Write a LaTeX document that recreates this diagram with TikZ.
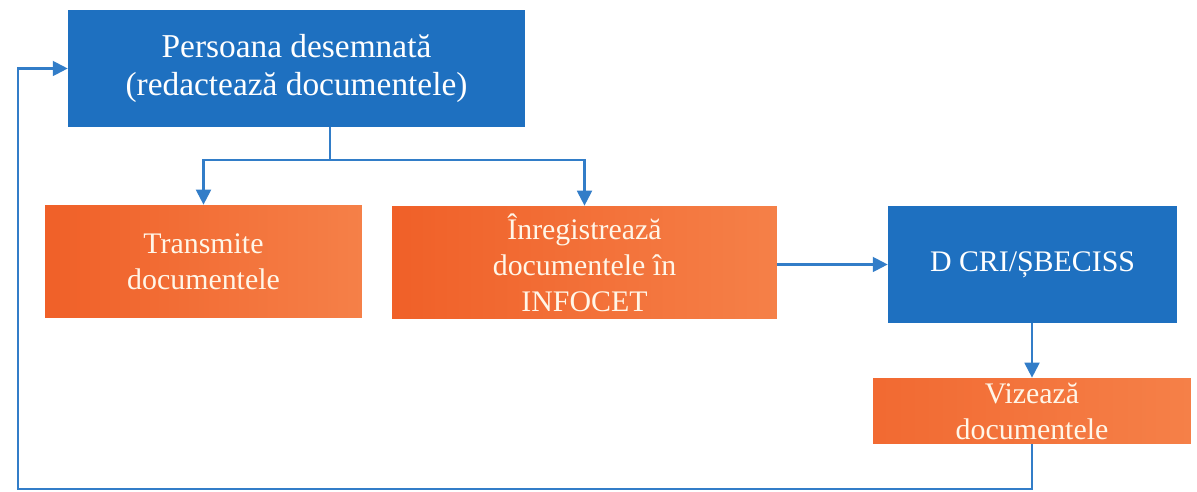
\documentclass[tikz,border=0pt]{standalone}
\usepackage{fontspec}
\setmainfont{Liberation Serif}
\usetikzlibrary{arrows.meta}
\definecolor{boxblue}{RGB}{30,112,192}
\definecolor{lineblue}{RGB}{50,125,200}
\definecolor{orangedark}{RGB}{240,96,40}
\definecolor{orangelight}{RGB}{245,128,72}
\definecolor{cream}{RGB}{255,246,232}
\tikzset{
  bluebox/.style={fill=boxblue, text=white, align=center, inner sep=0pt},
  orangebox/.style={left color=orangedark, right color=orangelight, text=cream, align=center, inner sep=0pt},
  link/.style={lineblue, line width=1.2pt, -{Triangle[length=8.5pt,width=8.5pt]}},
  plainlink/.style={lineblue, line width=1.2pt}
}
\begin{document}
\begin{tikzpicture}[x=0.02cm, y=-0.02cm]
    \useasboundingbox (0,0) rectangle (1197,492);
      % casete
      \node[bluebox, minimum width=9.14cm, minimum height=2.34cm, font=\fontsize{19}{22}\selectfont] (pers) at (296.5,68.5) {Persoana desemnată\\(redactează documentele)};
      \node[orangebox, minimum width=6.34cm, minimum height=2.26cm, font=\fontsize{17}{20.5}\selectfont] (trans) at (203.5,261.5) {Transmite\\documentele};
      \node[orangebox, minimum width=7.70cm, minimum height=2.26cm, font=\fontsize{17}{20.5}\selectfont] (inreg) at (584.5,262.5) {Înregistrează\\documentele în\\INFOCET};
      \node[bluebox, minimum width=5.78cm, minimum height=2.34cm, font=\fontsize{17}{20.5}\selectfont] (dcri) at (1032.5,264.5) {D CRI/ȘBECISS};
      \node[orangebox, left color=orangedark!70!orangelight, minimum width=6.36cm, minimum height=1.32cm, font=\fontsize{17}{20.5}\selectfont] (viz) at (1032,411) {Vizează\\documentele};
      % legaturi
      \coordinate (split) at (330,160);
      \coordinate (jos) at (18,489);
      \draw[plainlink] (pers.south -| split) -- (split);
      \draw[link] (split) -| (trans.north);
      \draw[link] (split) -| (inreg.north);
      \draw[link] (inreg.east |- dcri.west) -- (dcri.west);
      \draw[link] (dcri.south -| viz.north) -- (viz.north);
      \draw[link] (viz.south) |- (jos) |- (pers.west);
    \end{tikzpicture}
\end{document}
